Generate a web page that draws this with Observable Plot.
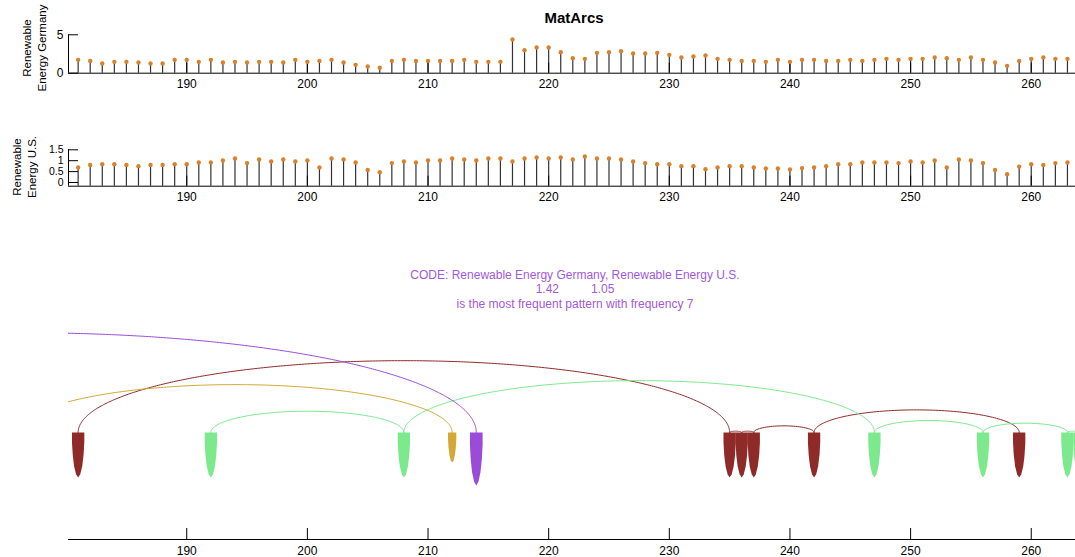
<!DOCTYPE html>
<html>
<head>
<meta charset="utf-8">
<script src="https://cdn.jsdelivr.net/npm/d3@7"></script>
<script src="https://cdn.jsdelivr.net/npm/@observablehq/plot@0.6"></script>
<style>
  html, body { margin: 0; padding: 0; background: #fff; overflow: hidden; }
  #root { position: relative; width: 1092px; height: 557px; font-family: "Liberation Sans", Arial, sans-serif; color: #000; }
  .box { position: absolute; left: 0; width: 1092px; }
  .ylab { position: absolute; font-size: 11.5px; line-height: 15px; text-align: center; white-space: nowrap;
          transform: translate(-50%, -50%) rotate(-90deg); }
</style>
</head>
<body>
<div id="root"></div>
<script>
// ---------------- data ----------------
const title = "MatArcs";
const seriesNames = ["Renewable Energy Germany", "Renewable Energy U.S."];
const positions = [181,182,183,184,185,186,187,188,189,190,191,192,193,194,195,196,197,198,199,200,
  201,202,203,204,205,206,207,208,209,210,211,212,213,214,215,216,217,218,219,220,
  221,222,223,224,225,226,227,228,229,230,231,232,233,234,235,236,237,238,239,240,
  241,242,243,244,245,246,247,248,249,250,251,252,253,254,255,256,257,258,259,260,
  261,262,263];
const germany = [1.74,1.6,1.26,1.48,1.48,1.39,1.26,1.26,1.74,1.74,
  1.48,1.74,1.39,1.48,1.39,1.48,1.48,1.39,1.74,1.48,
  1.6,1.74,1.39,1.09,0.87,0.7,1.6,1.74,1.6,1.6,
  1.6,1.6,1.74,1.48,1.48,1.48,4.39,3.0,3.35,3.35,
  2.74,1.96,1.87,2.65,2.74,2.87,2.57,2.57,2.65,2.39,
  2.04,2.17,2.3,1.87,1.74,1.6,1.6,1.48,1.74,1.48,
  1.74,1.74,1.6,1.6,1.74,1.6,1.74,1.87,1.74,1.87,
  1.87,2.04,1.96,1.74,2.04,1.74,1.39,0.96,1.6,1.87,
  2.04,1.87,1.87];
const us = [0.69,0.8,0.84,0.84,0.8,0.75,0.8,0.8,0.84,0.84,
  0.92,0.92,1.01,1.1,0.89,1.06,0.96,1.06,0.96,1.01,
  0.69,1.1,1.06,0.92,0.57,0.47,0.89,0.96,0.92,1.01,
  1.01,1.1,1.06,1.01,1.1,1.1,0.96,1.1,1.15,1.1,
  1.15,1.06,1.19,1.1,1.1,1.06,0.96,0.89,0.84,0.84,
  0.75,0.75,0.61,0.69,0.75,0.75,0.69,0.64,0.64,0.6,
  0.66,0.69,0.75,0.84,0.84,0.92,0.92,0.92,0.89,0.96,
  0.92,1.01,0.69,1.06,1.01,0.89,0.57,0.38,0.73,0.84,
  0.8,0.89,0.92];
const xTicks = [190,200,210,220,230,240,250,260];
const germanyTicks = [0,5];
const usTicks = [0,0.5,1,1.5];
// pattern occurrences (arcs join consecutive occurrences of the same pattern)
const patternNames = ["red", "green", "gold", "purple"];
const redOcc = [181,235,236,237,242,259];
const greenOcc = [192,208,247,256,263,264];
const goldOcc = [176,212];
const purpleOcc = [139,214];
const codeValues = [1.42, 1.05];
const codeFrequency = 7;

// ---------------- styles / layout ----------------
const W = 1092, ML = 68, MR = 13;
const xDomain = [180.2, 264];
const stemColor = "#333";
const markColor = "#d9822b";
const styles = {
  red:    {color: "#8e2a27", w: 12.3, h: 45},
  green:  {color: "#7ce98d", w: 12.3, h: 45},
  gold:   {color: "#d3a834", w: 8.3,  h: 30},
  purple: {color: "#9a4bd8", w: 12.7, h: 53}
};
const occ = {red: redOcc, green: greenOcc, gold: goldOcc, purple: purpleOcc};
const svgStyle = {fontFamily: '"Liberation Sans", Arial, sans-serif', fontSize: "12px", color: "#000",
                  background: "transparent", maxWidth: "none", overflow: "visible"};
const fmt = d => String(d);

const root = document.getElementById("root");
function place(node, top) {
  const d = document.createElement("div");
  d.className = "box"; d.style.top = top + "px";
  d.appendChild(node); root.appendChild(d);
}

// ---------------- stem panels ----------------
function stemPanel(values, yDomain, yTicks, top, height, mTop, mBottom, yFont) {
  const rows = positions.map((p, i) => ({pos: p, v: values[i]}));
  const base = yDomain[0];
  const svg = Plot.plot({
    width: W, height, marginLeft: ML, marginRight: MR, marginTop: mTop, marginBottom: mBottom,
    style: svgStyle,
    x: {domain: xDomain, label: null},
    y: {domain: yDomain, label: null},
    marks: [
      Plot.ruleX(rows, {x: "pos", y1: base, y2: "v", stroke: stemColor, strokeWidth: 1.2}),
      Plot.ruleY([base], {stroke: "#000"}),
      Plot.ruleX([xDomain[0]], {y1: base, y2: yDomain[1], stroke: "#000"}),
      Plot.axisX({ticks: xTicks, tickSize: -10, tickPadding: 16, tickFormat: fmt, label: null, stroke: "#000"}),
      Plot.axisY({ticks: yTicks, tickSize: -10, tickPadding: 15, tickFormat: fmt, label: null, stroke: "#000", fontSize: yFont}),
      Plot.dot(rows, {x: "pos", y: "v", r: 2.2, fill: markColor, stroke: "none"})
    ]
  });
  place(svg, top);
}
stemPanel(germany, [0, 5], germanyTicks, 0, 95, 34.3, 22.3, 12);
stemPanel(us, [-0.17, 1.5], usTicks, 120, 85, 29.3, 19.3, 10.5);

// ---------------- arc panel ----------------
const arcTop = 250, arcHeight = 307, arcMT = 10, arcMB = 18;
const pxPerUnit = 1.33;               // arc height (px) per unit of span
const baseY = 432 - arcTop;            // marker top, in svg px
const yDom = [-(arcHeight - arcMB - baseY) / pxPerUnit, (baseY - arcMT) / pxPerUnit];

const arcPts = [];
for (const name of patternNames) {
  const o = occ[name];
  for (let i = 1; i < o.length; i++) {
    const a = o[i - 1], b = o[i], m = (a + b) / 2, hw = (b - a) / 2, h = b - a;
    const n = Math.max(40, Math.round(h * 6));
    for (let k = 0; k <= n; k++) {
      const t = Math.PI * k / n;
      arcPts.push({id: name + i, color: styles[name].color, x: m - hw * Math.cos(t), y: h * Math.sin(t)});
    }
  }
}
function teardrop(w, h) {
  return {
    draw(ctx) {
      const p = [[0.5, 0], [0.5, 0.22], [0.44, 0.5], [0.33, 0.75], [0.17, 0.93]];
      ctx.moveTo(-p[0][0] * w, 0);
      for (const [fx, fy] of p) ctx.lineTo(fx * w, fy * h);
      ctx.lineTo(0, h);
      for (let i = p.length - 1; i >= 0; i--) ctx.lineTo(-p[i][0] * w, p[i][1] * h);
      ctx.closePath();
    }
  };
}
const markerMarks = patternNames.map(name => {
  const pts = occ[name].filter(v => v >= xDomain[0]).map(v => ({x: v}));
  const s = styles[name];
  return Plot.dot(pts, {x: "x", y: () => 0, symbol: teardrop(s.w, s.h), r: 5, fill: s.color, stroke: "none"});
});
const arcSvg = Plot.plot({
  width: W, height: arcHeight, marginLeft: ML, marginRight: MR, marginTop: arcMT, marginBottom: arcMB,
  style: svgStyle,
  x: {domain: xDomain, label: null},
  y: {domain: yDom, axis: null},
  color: {type: "identity"},
  marks: [
    Plot.line(arcPts, {x: "x", y: "y", z: "id", stroke: "color", strokeWidth: 1, clip: true}),
    ...markerMarks,
    Plot.ruleY([yDom[0]], {stroke: "#000"}),
    Plot.axisX({ticks: xTicks, tickSize: -11, tickPadding: 17.7, tickFormat: fmt, label: null, stroke: "#000"})
  ]
});
place(arcSvg, arcTop);

// ---------------- texts ----------------
const t = document.createElement("div");
t.textContent = title;
Object.assign(t.style, {position: "absolute", left: "474px", width: "200px", top: "9px", textAlign: "center",
  fontWeight: "bold", fontSize: "15px", lineHeight: "18px"});
root.appendChild(t);

function ylab(lines, cx, cy) {
  const d = document.createElement("div");
  d.className = "ylab";
  d.innerHTML = lines.map(s => `<div>${s}</div>`).join("");
  d.style.left = cx + "px"; d.style.top = cy + "px";
  root.appendChild(d);
}
ylab(["Renewable", "Energy Germany"], 35, 48);
ylab(["Renewable", "Energy U.S."], 24.5, 167);

const code = document.createElement("div");
Object.assign(code.style, {position: "absolute", left: "375px", width: "400px", top: "267.5px", textAlign: "center",
  fontSize: "12px", lineHeight: "14.7px", color: "#a259dc", whiteSpace: "nowrap"});
const l1 = document.createElement("div"); l1.textContent = "CODE: " + seriesNames.join(", ");
const l2 = document.createElement("div");
l2.innerHTML = `<span>${codeValues[0].toFixed(2)}</span><span style="margin-left:32px">${codeValues[1].toFixed(2)}</span>`;
const l3 = document.createElement("div"); l3.textContent = `is the most frequent pattern with frequency ${codeFrequency}`;
code.append(l1, l2, l3);
root.appendChild(code);
</script>
</body>
</html>
